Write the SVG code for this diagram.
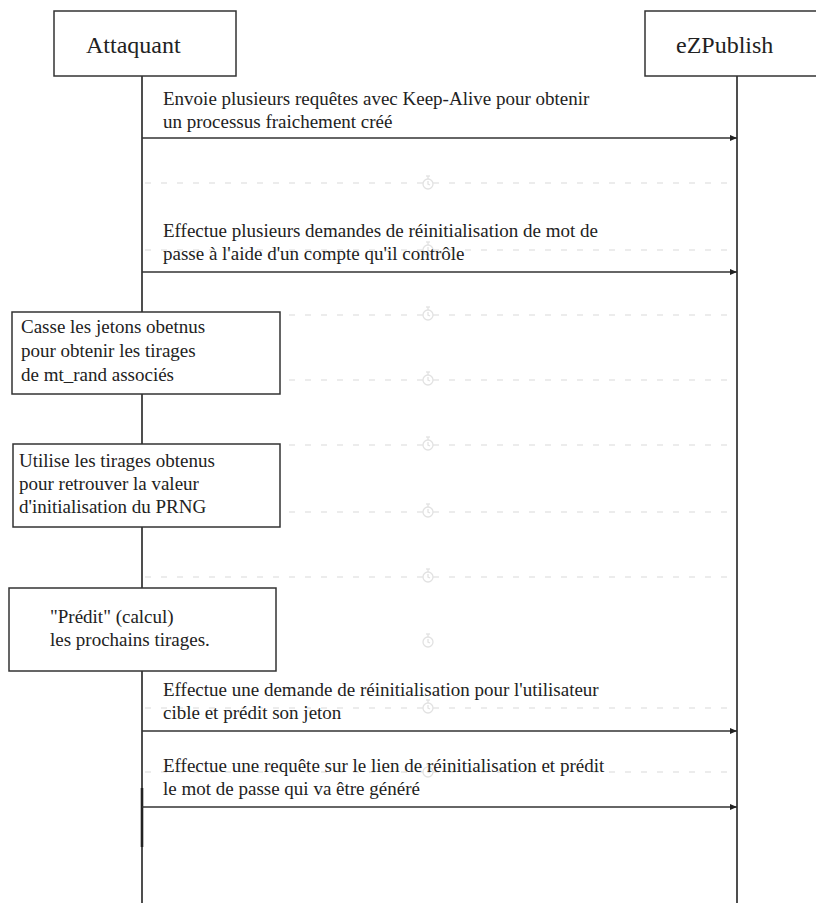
<svg xmlns="http://www.w3.org/2000/svg" width="816" height="903" viewBox="0 0 816 903" font-family="Liberation Serif, Times New Roman, Tinos, serif">
<style>
  .bg{fill:#ffffff}
  .box{fill:#ffffff;stroke:#333333;stroke-width:1.5}
  .life{stroke:#222222;stroke-width:1.6;fill:none}
  .msg{stroke:#333333;stroke-width:1.5;fill:none}
  .t{font-size:19px;fill:#222222}
  .h{font-size:24px;fill:#222222}
  .ghost{stroke:#e6e6e6;stroke-width:1.3;stroke-dasharray:6 10;fill:none}
  .gicon{stroke:#e2e2e2;stroke-width:1.3;fill:none}
</style>
<defs>
  <marker id="arr" markerWidth="8" markerHeight="8" refX="7" refY="4" orient="auto" markerUnits="userSpaceOnUse">
    <path d="M0,1 L7,4 L0,7 Z" fill="#222222"/>
  </marker>
  <g id="watch">
    <circle cx="0" cy="0" r="5" class="gicon"/>
    <line x1="0" y1="-5" x2="0" y2="-8" class="gicon"/>
    <line x1="-2" y1="-8" x2="2" y2="-8" class="gicon"/>
    <path d="M0,-3 L0,0 L2,1" class="gicon"/>
  </g>
</defs>
<rect class="bg" x="0" y="0" width="816" height="903"/>

<g id="ghosts">
  <line class="ghost" x1="145" y1="183" x2="733" y2="183"/>
  <line class="ghost" x1="145" y1="250" x2="733" y2="250"/>
  <line class="ghost" x1="145" y1="315" x2="733" y2="315"/>
  <line class="ghost" x1="145" y1="380" x2="733" y2="380"/>
  <line class="ghost" x1="145" y1="445" x2="733" y2="445"/>
  <line class="ghost" x1="145" y1="512" x2="733" y2="512"/>
  <line class="ghost" x1="145" y1="577" x2="733" y2="577"/>
  <line class="ghost" x1="145" y1="708" x2="733" y2="708"/>
  <line class="ghost" x1="145" y1="772" x2="733" y2="772"/>
  <use href="#watch" x="428" y="184"/>
  <use href="#watch" x="428" y="250"/>
  <use href="#watch" x="428" y="315"/>
  <use href="#watch" x="428" y="380"/>
  <use href="#watch" x="428" y="445"/>
  <use href="#watch" x="428" y="512"/>
  <use href="#watch" x="428" y="577"/>
  <use href="#watch" x="428" y="642"/>
  <use href="#watch" x="428" y="708"/>
  <use href="#watch" x="428" y="772"/>
</g>

<g id="lifelines">
  <line class="life" x1="142" y1="76" x2="142" y2="903"/>
  <line class="life" x1="142" y1="788" x2="142" y2="847" style="stroke-width:2.6"/>
  <line class="life" x1="737" y1="76" x2="737" y2="903"/>
</g>

<g id="attaquant">
  <rect class="box" x="54" y="11" width="182" height="65"/>
  <text class="h" x="86" y="53">Attaquant</text>
</g>
<g id="ezpublish">
  <rect class="box" x="645" y="11" width="184" height="65"/>
  <text class="h" x="676" y="53">eZPublish</text>
</g>

<g id="connectors">
  <line class="msg" x1="142" y1="138" x2="737" y2="138" marker-end="url(#arr)"/>
  <line class="msg" x1="142" y1="272" x2="737" y2="272" marker-end="url(#arr)"/>
  <line class="msg" x1="142" y1="731" x2="737" y2="731" marker-end="url(#arr)"/>
  <line class="msg" x1="142" y1="807" x2="737" y2="807" marker-end="url(#arr)"/>
</g>

<g id="msg-labels">
  <text class="t" x="163" y="105">Envoie plusieurs requêtes avec Keep-Alive pour obtenir</text>
  <text class="t" x="163" y="128">un processus fraichement créé</text>
  <text class="t" x="163" y="237">Effectue plusieurs demandes de réinitialisation de mot de</text>
  <text class="t" x="163" y="260">passe à l'aide d'un compte qu'il contrôle</text>
  <text class="t" x="163" y="696">Effectue une demande de réinitialisation pour l'utilisateur</text>
  <text class="t" x="163" y="719">cible et prédit son jeton</text>
  <text class="t" x="163" y="772">Effectue une requête sur le lien de réinitialisation et prédit</text>
  <text class="t" x="163" y="795">le mot de passe qui va être généré</text>
</g>

<g id="casse">
  <rect class="box" x="12" y="312" width="268" height="82"/>
  <text class="t" x="21" y="333">Casse les jetons obetnus</text>
  <text class="t" x="21" y="357">pour obtenir les tirages</text>
  <text class="t" x="21" y="381">de mt_rand associés</text>
</g>
<g id="utilise">
  <rect class="box" x="13" y="444" width="267" height="83"/>
  <text class="t" x="19" y="467">Utilise les tirages obtenus</text>
  <text class="t" x="19" y="490">pour retrouver la valeur</text>
  <text class="t" x="19" y="513">d'initialisation du PRNG</text>
</g>
<g id="predit">
  <rect class="box" x="9" y="588" width="267" height="83"/>
  <text class="t" x="50" y="623">"Prédit" (calcul)</text>
  <text class="t" x="50" y="646">les prochains tirages.</text>
</g>
</svg>
